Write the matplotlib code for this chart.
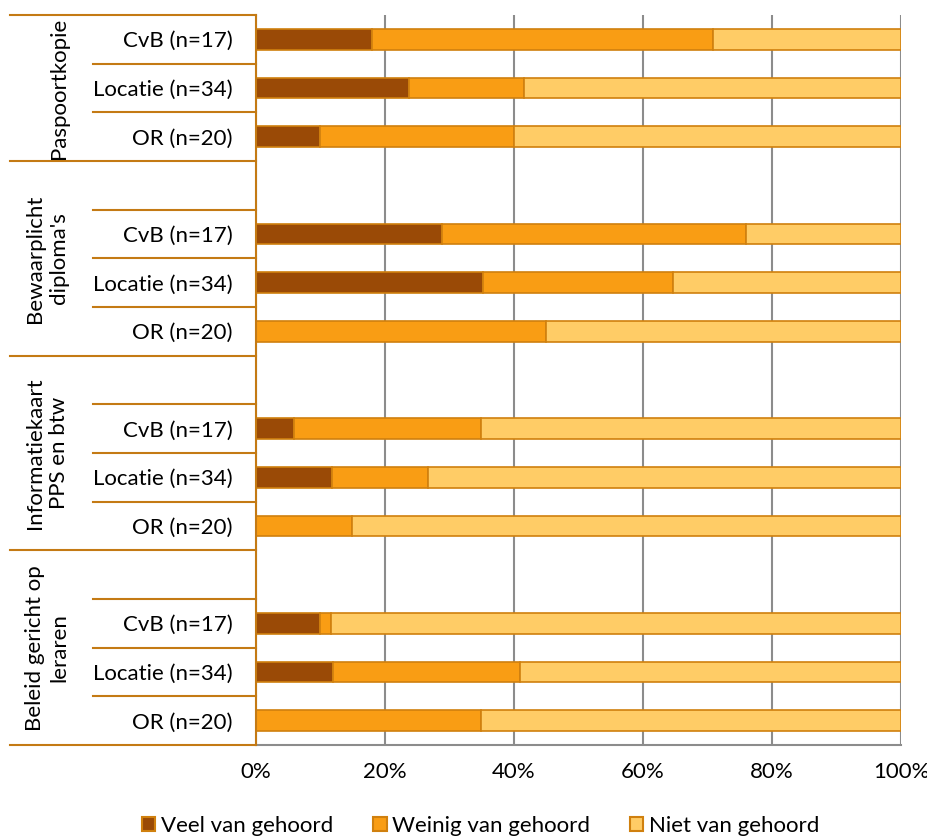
import matplotlib.pyplot as plt
from matplotlib.patches import Patch
import matplotlib.transforms as mtransforms
import numpy as np

plt.rcParams["font.family"] = ["Lato", "DejaVu Sans"]

groups = ["Paspoortkopie", "Bewaarplicht\ndiploma's", "Informatiekaart\nPPS en btw",
          "Beleid gericht op\nleraren"]
subcats = ["CvB (n=17)", "Locatie (n=34)", "OR (n=20)"]
series = ["Veel van gehoord", "Weinig van gehoord", "Niet van gehoord"]

# per group: CvB, Locatie, OR (percent)
veel = [[18.0, 23.7, 9.9], [28.9, 35.2, 0.0], [5.9, 11.8, 0.0], [9.9, 12.0, 0.0]]
weinig = [[52.9, 17.9, 30.1], [47.0, 29.4, 45.0], [29.0, 14.9, 14.9], [1.7, 28.9, 34.9]]
niet = [[29.1, 58.4, 60.0], [24.1, 35.4, 55.0], [65.1, 73.3, 85.1], [88.4, 59.1, 65.1]]

colors = ["#9A4A06", "#F99D14", "#FFCC66"]
EDGE = "#D0800E"
LINE = "#C47A14"
GRID = "#8C8C8C"
FS = 16

# build row layout: first group has no empty row, others start with one
rows_y, rows_lab, rows_vals = [], [], []
group_spans = []
y = 0
for gi, g in enumerate(groups):
    start = y
    if gi > 0:
        y += 1
    for si, s in enumerate(subcats):
        rows_y.append(y)
        rows_lab.append(s)
        rows_vals.append((veel[gi][si], weinig[gi][si], niet[gi][si]))
        y += 1
    group_spans.append((start, y))
n_rows = y
vals = np.array(rows_vals)

fig = plt.figure(figsize=(9.28, 8.38), dpi=100)
ax = fig.add_axes([256 / 928, 1 - 745 / 838, 645 / 928, 730 / 838])

left = np.zeros(len(rows_y))
for k in range(3):
    ax.barh(rows_y, vals[:, k], left=left, height=0.42, color=colors[k],
            edgecolor=EDGE, linewidth=1.2, zorder=3)
    left += vals[:, k]

ax.set_xlim(0, 100)
ax.set_ylim(n_rows - 0.5, -0.5)
ax.set_xticks(np.arange(0, 101, 20))
ax.set_xticklabels([f"{v}%" for v in range(0, 101, 20)], fontsize=FS)
ax.xaxis.grid(True, color=GRID, linewidth=1.5, zorder=0)
ax.tick_params(axis="x", length=0, pad=12)
ax.tick_params(axis="y", length=0, pad=17)
ax.set_yticks(rows_y)
ax.set_yticklabels(rows_lab, fontsize=FS)

for side in ["top", "right"]:
    ax.spines[side].set_visible(False)
ax.spines["bottom"].set_color(GRID)
ax.spines["bottom"].set_linewidth(1.5)
ax.spines["left"].set_color(LINE)
ax.spines["left"].set_linewidth(1.5)
ax.spines["left"].set_zorder(4)

trans = mtransforms.blended_transform_factory(ax.transAxes, ax.transData)
full_x0 = (10 - 256) / 645
part_x0 = (93 - 256) / 645
for (start, end), g in zip(group_spans, groups):
    ax.plot([full_x0, 0], [start - 0.5, start - 0.5], transform=trans, color=LINE,
            lw=1.5, clip_on=False)
    for b in range(start + 1, end):
        ax.plot([part_x0, 0], [b - 0.5, b - 0.5], transform=trans, color=LINE,
                lw=1.5, clip_on=False)
    ax.text((69 - 256) / 645, (start + end - 1) / 2, g, transform=trans, rotation=90,
            ha="right", va="center", multialignment="center", fontsize=FS,
            linespacing=1.25)
ax.plot([full_x0, 0], [n_rows - 0.5, n_rows - 0.5], transform=trans, color=LINE,
        lw=1.5, clip_on=False)

handles = [Patch(facecolor=c, edgecolor=EDGE, linewidth=1.5) for c in colors]
fig.legend(handles, series, loc="center", bbox_to_anchor=(0.518, 1 - 826 / 838),
           ncol=3, frameon=False, fontsize=FS, handlelength=0.6, handleheight=0.6,
           handletextpad=0.25, columnspacing=1.8)

fig.savefig("out.png", dpi=100)
